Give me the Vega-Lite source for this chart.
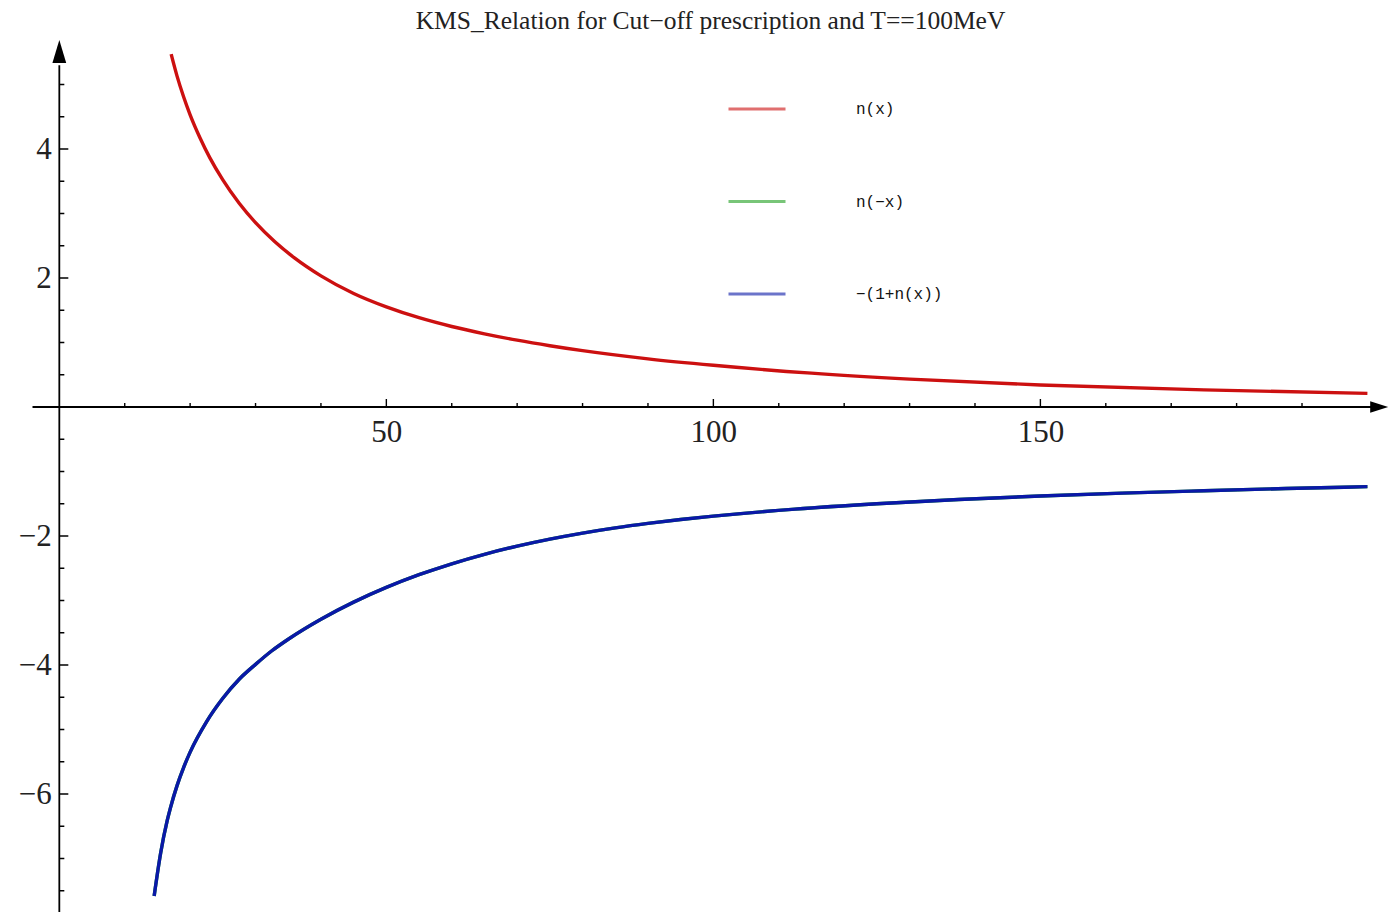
{
  "$schema": "https://vega.github.io/schema/vega-lite/v6.json",
  "width": 1389,
  "height": 872,
  "padding": {"left": 0, "right": 0, "top": 40, "bottom": 0},
  "autosize": {"type": "none"},
  "background": "white",
  "config": {"view": {"stroke": null}},
  "title": {
    "text": "KMS_Relation for Cut−off prescription and T==100MeV",
    "font": "Liberation Serif",
    "fontSize": 25.5,
    "fontWeight": "normal",
    "color": "#222222",
    "anchor": "middle",
    "frame": "group",
    "baseline": "alphabetic",
    "offset": 12,
    "dx": 16,
    "dy": 27
  },
  "datasets": {
    "curves": [
      {"s": "n(x)", "x": 17.1, "y": 5.47},
      {"s": "n(x)", "x": 18, "y": 5.13},
      {"s": "n(x)", "x": 19, "y": 4.81},
      {"s": "n(x)", "x": 20, "y": 4.53},
      {"s": "n(x)", "x": 21.5, "y": 4.175},
      {"s": "n(x)", "x": 23, "y": 3.867},
      {"s": "n(x)", "x": 25, "y": 3.521},
      {"s": "n(x)", "x": 27.5, "y": 3.159},
      {"s": "n(x)", "x": 30, "y": 2.858},
      {"s": "n(x)", "x": 33, "y": 2.558},
      {"s": "n(x)", "x": 36, "y": 2.308},
      {"s": "n(x)", "x": 40, "y": 2.033},
      {"s": "n(x)", "x": 45, "y": 1.760},
      {"s": "n(x)", "x": 50, "y": 1.552},
      {"s": "n(x)", "x": 55, "y": 1.384},
      {"s": "n(x)", "x": 60, "y": 1.248},
      {"s": "n(x)", "x": 65, "y": 1.135},
      {"s": "n(x)", "x": 70, "y": 1.036},
      {"s": "n(x)", "x": 75, "y": 0.950},
      {"s": "n(x)", "x": 80, "y": 0.874},
      {"s": "n(x)", "x": 90, "y": 0.747},
      {"s": "n(x)", "x": 100, "y": 0.647},
      {"s": "n(x)", "x": 115, "y": 0.525},
      {"s": "n(x)", "x": 130, "y": 0.433},
      {"s": "n(x)", "x": 150, "y": 0.342},
      {"s": "n(x)", "x": 175, "y": 0.265},
      {"s": "n(x)", "x": 200, "y": 0.212},
      {"s": "n(−x)", "x": 14.5, "y": -7.58},
      {"s": "n(−x)", "x": 15.5, "y": -6.91},
      {"s": "n(−x)", "x": 16.5, "y": -6.41},
      {"s": "n(−x)", "x": 17, "y": -6.21},
      {"s": "n(−x)", "x": 18, "y": -5.87},
      {"s": "n(−x)", "x": 19, "y": -5.59},
      {"s": "n(−x)", "x": 20, "y": -5.35},
      {"s": "n(−x)", "x": 22.5, "y": -4.88},
      {"s": "n(−x)", "x": 25, "y": -4.515},
      {"s": "n(−x)", "x": 27.5, "y": -4.22},
      {"s": "n(−x)", "x": 30, "y": -3.99},
      {"s": "n(−x)", "x": 32.5, "y": -3.779},
      {"s": "n(−x)", "x": 35, "y": -3.60},
      {"s": "n(−x)", "x": 40, "y": -3.29},
      {"s": "n(−x)", "x": 45, "y": -3.025},
      {"s": "n(−x)", "x": 50, "y": -2.797},
      {"s": "n(−x)", "x": 55, "y": -2.60},
      {"s": "n(−x)", "x": 60, "y": -2.43},
      {"s": "n(−x)", "x": 65, "y": -2.283},
      {"s": "n(−x)", "x": 70, "y": -2.157},
      {"s": "n(−x)", "x": 75, "y": -2.048},
      {"s": "n(−x)", "x": 80, "y": -1.954},
      {"s": "n(−x)", "x": 85, "y": -1.873},
      {"s": "n(−x)", "x": 90, "y": -1.804},
      {"s": "n(−x)", "x": 95, "y": -1.744},
      {"s": "n(−x)", "x": 100, "y": -1.692},
      {"s": "n(−x)", "x": 112.5, "y": -1.583},
      {"s": "n(−x)", "x": 125, "y": -1.50},
      {"s": "n(−x)", "x": 137.5, "y": -1.433},
      {"s": "n(−x)", "x": 150, "y": -1.38},
      {"s": "n(−x)", "x": 162.5, "y": -1.335},
      {"s": "n(−x)", "x": 175, "y": -1.298},
      {"s": "n(−x)", "x": 187.5, "y": -1.264},
      {"s": "n(−x)", "x": 200, "y": -1.235},
      {"s": "−(1+n(x))", "x": 14.5, "y": -7.58},
      {"s": "−(1+n(x))", "x": 15.5, "y": -6.91},
      {"s": "−(1+n(x))", "x": 16.5, "y": -6.41},
      {"s": "−(1+n(x))", "x": 17, "y": -6.21},
      {"s": "−(1+n(x))", "x": 18, "y": -5.87},
      {"s": "−(1+n(x))", "x": 19, "y": -5.59},
      {"s": "−(1+n(x))", "x": 20, "y": -5.35},
      {"s": "−(1+n(x))", "x": 22.5, "y": -4.88},
      {"s": "−(1+n(x))", "x": 25, "y": -4.515},
      {"s": "−(1+n(x))", "x": 27.5, "y": -4.22},
      {"s": "−(1+n(x))", "x": 30, "y": -3.99},
      {"s": "−(1+n(x))", "x": 32.5, "y": -3.779},
      {"s": "−(1+n(x))", "x": 35, "y": -3.60},
      {"s": "−(1+n(x))", "x": 40, "y": -3.29},
      {"s": "−(1+n(x))", "x": 45, "y": -3.025},
      {"s": "−(1+n(x))", "x": 50, "y": -2.797},
      {"s": "−(1+n(x))", "x": 55, "y": -2.60},
      {"s": "−(1+n(x))", "x": 60, "y": -2.43},
      {"s": "−(1+n(x))", "x": 65, "y": -2.283},
      {"s": "−(1+n(x))", "x": 70, "y": -2.157},
      {"s": "−(1+n(x))", "x": 75, "y": -2.048},
      {"s": "−(1+n(x))", "x": 80, "y": -1.954},
      {"s": "−(1+n(x))", "x": 85, "y": -1.873},
      {"s": "−(1+n(x))", "x": 90, "y": -1.804},
      {"s": "−(1+n(x))", "x": 95, "y": -1.744},
      {"s": "−(1+n(x))", "x": 100, "y": -1.692},
      {"s": "−(1+n(x))", "x": 112.5, "y": -1.583},
      {"s": "−(1+n(x))", "x": 125, "y": -1.50},
      {"s": "−(1+n(x))", "x": 137.5, "y": -1.433},
      {"s": "−(1+n(x))", "x": 150, "y": -1.38},
      {"s": "−(1+n(x))", "x": 162.5, "y": -1.335},
      {"s": "−(1+n(x))", "x": 175, "y": -1.298},
      {"s": "−(1+n(x))", "x": 187.5, "y": -1.264},
      {"s": "−(1+n(x))", "x": 200, "y": -1.235}
    ],
    "xticks": [
      {"x": 10, "y": 0, "k": "minor"}, {"x": 20, "y": 0, "k": "minor"}, {"x": 30, "y": 0, "k": "minor"}, {"x": 40, "y": 0, "k": "minor"},
      {"x": 50, "y": 0, "k": "major"}, {"x": 60, "y": 0, "k": "minor"}, {"x": 70, "y": 0, "k": "minor"}, {"x": 80, "y": 0, "k": "minor"},
      {"x": 90, "y": 0, "k": "minor"}, {"x": 100, "y": 0, "k": "major"}, {"x": 110, "y": 0, "k": "minor"}, {"x": 120, "y": 0, "k": "minor"},
      {"x": 130, "y": 0, "k": "minor"}, {"x": 140, "y": 0, "k": "minor"}, {"x": 150, "y": 0, "k": "major"}, {"x": 160, "y": 0, "k": "minor"},
      {"x": 170, "y": 0, "k": "minor"}, {"x": 180, "y": 0, "k": "minor"}, {"x": 190, "y": 0, "k": "minor"}
    ],
    "yticks": [
      {"x": 0, "y": 5.0, "k": "minor"}, {"x": 0, "y": 4.5, "k": "minor"}, {"x": 0, "y": 4, "k": "major"}, {"x": 0, "y": 3.5, "k": "minor"},
      {"x": 0, "y": 3.0, "k": "minor"}, {"x": 0, "y": 2.5, "k": "minor"}, {"x": 0, "y": 2, "k": "major"}, {"x": 0, "y": 1.5, "k": "minor"},
      {"x": 0, "y": 1.0, "k": "minor"}, {"x": 0, "y": 0.5, "k": "minor"}, {"x": 0, "y": -0.5, "k": "minor"}, {"x": 0, "y": -1.0, "k": "minor"},
      {"x": 0, "y": -1.5, "k": "minor"}, {"x": 0, "y": -2, "k": "major"}, {"x": 0, "y": -2.5, "k": "minor"}, {"x": 0, "y": -3.0, "k": "minor"},
      {"x": 0, "y": -3.5, "k": "minor"}, {"x": 0, "y": -4, "k": "major"}, {"x": 0, "y": -4.5, "k": "minor"}, {"x": 0, "y": -5.0, "k": "minor"},
      {"x": 0, "y": -5.5, "k": "minor"}, {"x": 0, "y": -6, "k": "major"}, {"x": 0, "y": -6.5, "k": "minor"}, {"x": 0, "y": -7.0, "k": "minor"},
      {"x": 0, "y": -7.5, "k": "minor"}
    ],
    "axislines": [
      {"x": -4.1, "x2": 201.0, "y": 0, "y2": 0},
      {"x": 0, "x2": 0, "y": -7.9, "y2": 5.3}
    ],
    "arrows": [
      {"x": 0, "y": 5.512, "d": "up"},
      {"x": 201.8, "y": 0, "d": "right"}
    ]
  },
  "encoding": {
    "x": {
      "field": "x", "type": "quantitative",
      "scale": {"domain": [-9.07, 203.3], "nice": false, "zero": false},
      "axis": {
        "orient": "bottom", "offset": -505, "values": [50, 100, 150],
        "ticks": false, "domain": false, "grid": false, "title": null,
        "labelFont": "Liberation Serif", "labelFontSize": 31, "labelColor": "#222222",
        "labelPadding": 10, "labelFlush": false
      }
    },
    "y": {
      "field": "y", "type": "quantitative",
      "scale": {"domain": [-7.829, 5.69], "nice": false, "zero": false},
      "axis": {
        "orient": "left", "offset": -59.3, "values": [-6, -4, -2, 2, 4],
        "ticks": false, "domain": false, "grid": false, "title": null,
        "labelFont": "Liberation Serif", "labelFontSize": 31, "labelColor": "#222222",
        "labelPadding": 8
      }
    }
  },
  "layer": [
    {
      "data": {"name": "axislines"},
      "mark": {"type": "rule", "color": "black", "strokeWidth": 1.8},
      "encoding": {
        "x2": {"field": "x2"},
        "y2": {"field": "y2"}
      }
    },
    {
      "data": {"name": "xticks"},
      "transform": [{"filter": "datum.k == 'minor'"}],
      "mark": {"type": "tick", "orient": "vertical", "size": 4, "thickness": 1.4, "color": "black", "yOffset": -2, "opacity": 1},
      "encoding": {}
    },
    {
      "data": {"name": "xticks"},
      "transform": [{"filter": "datum.k == 'major'"}],
      "mark": {"type": "tick", "orient": "vertical", "size": 8, "thickness": 1.4, "color": "black", "yOffset": -4, "opacity": 1},
      "encoding": {}
    },
    {
      "data": {"name": "yticks"},
      "transform": [{"filter": "datum.k == 'minor'"}],
      "mark": {"type": "tick", "orient": "horizontal", "size": 5, "thickness": 1.4, "color": "black", "xOffset": 2.5, "opacity": 1},
      "encoding": {}
    },
    {
      "data": {"name": "yticks"},
      "transform": [{"filter": "datum.k == 'major'"}],
      "mark": {"type": "tick", "orient": "horizontal", "size": 9, "thickness": 1.4, "color": "black", "xOffset": 4.5, "opacity": 1},
      "encoding": {}
    },
    {
      "data": {"name": "arrows"},
      "transform": [{"filter": "datum.d == 'up'"}],
      "mark": {"type": "point", "shape": "M0,-1L0.6,1L-0.6,1Z", "size": 529, "filled": true, "color": "black", "opacity": 1, "strokeWidth": 0},
      "encoding": {}
    },
    {
      "data": {"name": "arrows"},
      "transform": [{"filter": "datum.d == 'right'"}],
      "mark": {"type": "point", "shape": "M1,0L-1,-0.65L-1,0.65Z", "size": 324, "filled": true, "color": "black", "opacity": 1, "strokeWidth": 0},
      "encoding": {}
    },
    {
      "data": {"name": "curves"},
      "mark": {"type": "line", "strokeWidth": 3.4, "interpolate": "monotone"},
      "encoding": {
        "color": {
          "field": "s", "type": "nominal",
          "scale": {"domain": ["n(x)", "n(−x)", "−(1+n(x))"], "range": ["#cc1010", "#20a020", "#0a18a8"]},
          "legend": {
            "orient": "none", "legendX": 727, "legendY": 39, "title": null,
            "symbolType": "stroke", "symbolSize": 3249, "symbolStrokeWidth": 3, "symbolOpacity": 0.6,
            "labelFont": "Liberation Mono", "labelFontSize": 16, "labelColor": "#111111",
            "labelOffset": 69, "rowPadding": 54.5, "padding": 0
          }
        }
      }
    }
  ]
}
